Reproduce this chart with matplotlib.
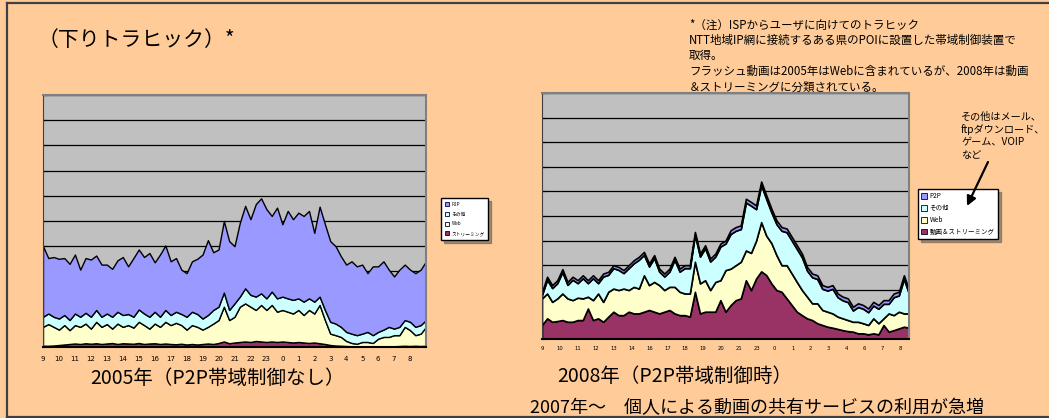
import numpy as np
import matplotlib
matplotlib.use("Agg")
import matplotlib.pyplot as plt
from matplotlib.lines import Line2D
from matplotlib.patches import Patch, FancyArrowPatch

plt.rcParams['font.family'] = ['Noto Sans CJK JP', 'DejaVu Sans']

# stacked boundaries (cumulative tops), 20-minute steps from 9:00, 0-10 grid units
# 2005
top_stream_05 = [0.05, 0.05, 0.06, 0.08, 0.1, 0.12, 0.14, 0.12, 0.15, 0.13,
                 0.15, 0.12, 0.14, 0.16, 0.12, 0.15, 0.14, 0.13, 0.16, 0.12,
                 0.14, 0.15, 0.12, 0.14, 0.12, 0.11, 0.13, 0.1, 0.12, 0.1,
                 0.12, 0.14, 0.12, 0.16, 0.22, 0.15, 0.18, 0.2, 0.22, 0.2,
                 0.24, 0.22, 0.2, 0.22, 0.2, 0.22, 0.2, 0.18, 0.2, 0.18,
                 0.16, 0.18, 0.15, 0.12, 0.08, 0.06, 0.05, 0.04, 0.03, 0.03,
                 0.02, 0.03, 0.02, 0.03, 0.02, 0.03, 0.03, 0.04, 0.05, 0.04,
                 0.05, 0.04, 0.05]
top_web_05 = [0.8, 0.91, 0.8, 0.69, 0.87, 0.67, 0.87, 0.8, 0.93, 0.73,
              1.0, 0.8, 0.91, 0.73, 0.93, 0.8, 0.87, 0.77, 1.0, 0.87,
              0.73, 0.93, 0.8, 1.0, 0.87, 0.96, 0.87, 0.69, 0.87, 0.8,
              0.69, 0.8, 0.93, 1.07, 1.6, 1.07, 1.2, 1.6, 1.73, 1.6,
              1.47, 1.67, 1.47, 1.67, 1.4, 1.47, 1.4, 1.33, 1.47, 1.27,
              1.47, 1.33, 1.67, 1.07, 0.53, 0.47, 0.4, 0.24, 0.16, 0.13,
              0.2, 0.2, 0.16, 0.33, 0.4, 0.4, 0.47, 0.47, 0.8, 0.67,
              0.47, 0.53, 0.8]
top_other_05 = [1.2, 1.33, 1.2, 1.13, 1.27, 1.07, 1.33, 1.2, 1.36, 1.2,
                1.47, 1.2, 1.33, 1.2, 1.4, 1.27, 1.31, 1.2, 1.49, 1.33,
                1.2, 1.4, 1.2, 1.47, 1.27, 1.4, 1.31, 1.2, 1.4, 1.31,
                1.13, 1.27, 1.47, 1.6, 2.16, 1.47, 1.73, 2.0, 2.33, 2.07,
                2.0, 2.13, 1.93, 2.2, 1.93, 2.0, 1.93, 1.87, 1.93, 1.8,
                1.93, 1.8, 2.0, 1.47, 1.0, 0.93, 0.8, 0.6, 0.53, 0.47,
                0.53, 0.6, 0.47, 0.6, 0.69, 0.8, 0.73, 0.8, 1.07, 1.0,
                0.8, 0.87, 1.07]
top_p2p_05 = [4.0, 3.53, 3.57, 3.5, 3.53, 3.3, 3.67, 3.07, 3.53, 3.47,
              3.63, 3.27, 3.27, 3.1, 3.44, 3.57, 3.2, 3.53, 3.87, 3.57,
              3.73, 3.36, 3.67, 4.03, 3.4, 3.53, 3.07, 2.93, 3.4, 3.5,
              3.67, 4.24, 3.76, 3.87, 5.0, 4.2, 4.0, 4.93, 5.6, 5.07,
              5.67, 5.9, 5.47, 5.2, 5.53, 4.87, 5.4, 5.07, 5.33, 5.2,
              5.4, 4.53, 5.57, 4.87, 4.2, 4.0, 3.6, 3.27, 3.4, 3.2,
              3.27, 2.93, 3.2, 3.2, 3.4, 3.07, 2.8, 3.07, 3.27, 3.07,
              2.93, 3.07, 3.4]

# 2008
top_stream_08 = [0.57, 0.84, 0.7, 0.73, 0.77, 0.7, 0.7, 0.77, 0.77, 1.24,
                 0.77, 0.84, 0.7, 0.91, 1.11, 0.97, 0.97, 1.11, 1.04, 1.04,
                 1.11, 1.18, 1.11, 1.04, 1.11, 1.18, 1.04, 0.97, 0.97, 0.91,
                 1.92, 1.04, 1.11, 1.11, 1.11, 1.58, 1.11, 1.38, 1.58, 1.65,
                 2.39, 1.99, 2.46, 2.75, 2.6, 2.26, 1.99, 1.92, 1.65, 1.38,
                 1.11, 0.97, 0.84, 0.77, 0.64, 0.57, 0.5, 0.46, 0.41, 0.36,
                 0.32, 0.3, 0.23, 0.23, 0.19, 0.23, 0.19, 0.57, 0.3, 0.36,
                 0.43, 0.5, 0.46]
top_web_08 = [1.65, 1.85, 1.51, 1.65, 1.85, 1.65, 1.58, 1.68, 1.65, 1.72,
              1.58, 1.85, 1.51, 1.92, 2.05, 1.99, 2.05, 1.99, 2.12, 2.05,
              2.59, 2.19, 2.32, 2.19, 1.99, 2.12, 2.12, 1.92, 1.85, 1.85,
              3.14, 2.26, 2.39, 1.99, 2.32, 2.39, 2.8, 2.86, 3.0, 3.14,
              3.6, 3.5, 4.0, 4.75, 4.2, 3.9, 3.41, 3.0, 3.0, 2.66,
              2.32, 1.99, 1.72, 1.45, 1.45, 1.18, 1.11, 1.04, 0.91, 0.84,
              0.77, 0.7, 0.7, 0.64, 0.57, 0.84, 0.64, 0.84, 1.04, 0.97,
              1.11, 1.04, 1.04]
top_other_08 = [1.8, 2.41, 2.07, 2.27, 2.72, 2.2, 2.41, 2.27, 2.47, 2.27,
                2.47, 2.27, 2.54, 2.61, 2.88, 2.81, 2.68, 2.88, 3.08, 3.22,
                3.42, 2.95, 3.29, 2.74, 2.54, 2.74, 3.22, 2.74, 2.88, 2.88,
                4.23, 3.35, 3.69, 3.15, 3.35, 3.76, 3.88, 4.27, 4.4, 4.47,
                5.55, 5.42, 5.28, 6.25, 5.69, 5.15, 4.67, 4.4, 4.34, 4.0,
                3.66, 3.32, 2.78, 2.51, 2.44, 2.04, 1.97, 2.04, 1.7, 1.57,
                1.5, 1.16, 1.3, 1.23, 1.09, 1.36, 1.23, 1.43, 1.43, 1.7,
                1.77, 2.44, 1.84]
top_p2p_08 = [1.92, 2.53, 2.19, 2.39, 2.84, 2.32, 2.53, 2.39, 2.59, 2.39,
              2.59, 2.39, 2.66, 2.73, 3.0, 2.93, 2.8, 3.0, 3.2, 3.34,
              3.54, 3.07, 3.41, 2.86, 2.66, 2.86, 3.34, 2.86, 3.0, 3.0,
              4.35, 3.47, 3.81, 3.27, 3.47, 3.88, 4.0, 4.42, 4.55, 4.62,
              5.7, 5.57, 5.43, 6.4, 5.84, 5.3, 4.82, 4.55, 4.49, 4.15,
              3.81, 3.47, 2.93, 2.66, 2.59, 2.19, 2.12, 2.19, 1.85, 1.72,
              1.65, 1.31, 1.45, 1.38, 1.24, 1.51, 1.38, 1.58, 1.58, 1.85,
              1.92, 2.59, 1.99]

hour_labels_05 = ['9', '10', '11', '12', '13', '14', '15', '16', '17', '18', '19', '20',
                  '21', '22', '23', '0', '1', '2', '3', '4', '5', '6', '7', '8']
hour_labels_08 = ['9', '10', '11', '12', '13', '14', '16', '17', '18', '19', '20',
                  '21', '23', '0', '1', '2', '3', '4', '6', '7', '8']

colors = ['#993366', '#FFFFCC', '#CCFFFF', '#9999FF']
names_05 = ['P2P', 'その他', 'Web', 'ストリーミング']
names_08 = ['P2P', 'その他', 'Web', '動画＆ストリーミング']

W, H = 1049, 418


def fx(x):
    return x / W


def fy(y):
    return 1 - y / H


def draw_area(ax, tops, labels, lab_pos, lab_size, lab_pad, lw):
    bounds = np.vstack([np.zeros(len(tops[0]))] + [np.array(t) for t in tops])
    layers = np.clip(np.diff(bounds, axis=0), 0, None)
    t = np.linspace(0, 24, len(tops[0]))
    ax.set_facecolor('#C0C0C0')
    ax.stackplot(t, layers, colors=colors, edgecolor='black', linewidth=lw, zorder=2)
    ax.set_xlim(0, 24)
    ax.set_ylim(0, 10)
    ax.set_yticks(range(11))
    ax.set_yticklabels([])
    ax.yaxis.grid(True, color='black', linewidth=0.9)
    ax.set_axisbelow(True)
    ax.tick_params(axis='y', direction='in', length=3, width=0.8)
    ax.set_xticks(lab_pos)
    ax.set_xticklabels(labels, fontsize=lab_size, family='DejaVu Sans')
    ax.tick_params(axis='x', length=0, pad=lab_pad)
    for s in ['top', 'right']:
        ax.spines[s].set_color('#808080')
        ax.spines[s].set_linewidth(1.5)
    ax.spines['left'].set_color('#404040')
    ax.spines['bottom'].set_linewidth(1.5)


fig = plt.figure(figsize=(W / 100, H / 100), dpi=100, facecolor='#FFCC99')

ax1 = fig.add_axes([fx(43), fy(347), fx(383), 252 / H])
draw_area(ax1, [top_stream_05, top_web_05, top_other_05, top_p2p_05],
          hour_labels_05, np.arange(24), 5, 6.5, 1.0)

ax2 = fig.add_axes([fx(542), fy(339), fx(367), 246 / H])
draw_area(ax2, [top_stream_08, top_web_08, top_other_08, top_p2p_08],
          hour_labels_08, np.arange(21) * 1.1707, 3.8, 5.2, 1.2)

# legends
handles = [Patch(facecolor=c, edgecolor='#000033', linewidth=0.6) for c in colors[::-1]]
fig.legend(handles, names_05, loc='upper left', bbox_to_anchor=(fx(441), fy(198)),
           fontsize=3.4, frameon=True, fancybox=False, edgecolor='black', shadow=True,
           handlelength=0.9, handleheight=0.9, handletextpad=0.5, labelspacing=1.0,
           borderpad=0.8, borderaxespad=0)
fig.legend(handles, names_08, loc='upper left', bbox_to_anchor=(fx(918), fy(189)),
           fontsize=4.7, frameon=True, fancybox=False, edgecolor='black', shadow=True,
           handlelength=0.9, handleheight=0.9, handletextpad=0.4, labelspacing=0.6,
           borderpad=0.5, borderaxespad=0)

# frame
fc = '#404040'
fig.add_artist(Line2D([fx(7), fx(7)], [fy(3), fy(416.5)], color=fc, lw=1.6))
fig.add_artist(Line2D([fx(7), 1], [fy(3), fy(3)], color=fc, lw=1.6))
fig.add_artist(Line2D([fx(7), 1], [fy(416.5), fy(416.5)], color=fc, lw=1.6))

# texts
fig.text(fx(38), fy(40), '（下りトラヒック）*', fontsize=15, va='center', ha='left')

note = ['*（注）ISPからユーザに向けてのトラヒック',
        'NTT地域IP網に接続するある県のPOIに設置した帯域制御装置で',
        '取得。',
        'フラッシュ動画は2005年はWebに含まれているが、2008年は動画',
        '＆ストリーミングに分類されている。']
for i, line in enumerate(note):
    fig.text(fx(689), fy(25 + 15.5 * i), line, fontsize=8.3, va='center', ha='left')

other_note = ['その他はメール、', 'ftpダウンロード、', 'ゲーム、VOIP', 'など']
for i, line in enumerate(other_note):
    fig.text(fx(961), fy(117 + 12.5 * i), line, fontsize=7.3, va='center', ha='left')

# arrow drawn over the legend
fig.add_artist(FancyArrowPatch((fx(988), fy(162)), (fx(967), fy(206)),
                               transform=fig.transFigure, arrowstyle='-|>',
                               mutation_scale=14, lw=1.6, color='black',
                               shrinkA=0, shrinkB=0, zorder=20))

fig.text(fx(90), fy(378), '2005年（P2P帯域制御なし）', fontsize=14, va='center', ha='left')
fig.text(fx(557), fy(377), '2008年（P2P帯域制御時）', fontsize=14, va='center', ha='left')
fig.text(fx(530), fy(408), '2007年～　個人による動画の共有サービスの利用が急増',
         fontsize=13, va='center', ha='left')

fig.savefig('out.png', dpi=100, facecolor=fig.get_facecolor())
